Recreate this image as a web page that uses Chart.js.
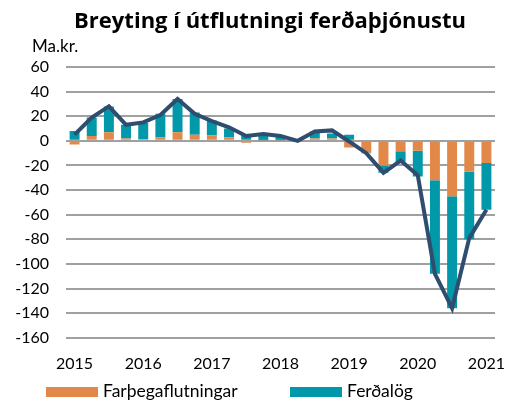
<!DOCTYPE html>
<html>
<head>
<meta charset="utf-8">
<script src="https://cdn.jsdelivr.net/npm/chart.js@4"></script>
<style>
    body { margin: 0; background: #fff; font-family: Lato, sans-serif; }
    #wrap { position: relative; width: 520px; height: 405px; }
    #c { position: absolute; left: 0; top: 0; }
    .title { position: absolute; left: 10px; width: 520px; top: 4px; text-align: center; font-family: 'Open Sans', sans-serif; font-size: 22px; font-weight: bold; color: #000; line-height: 30px; }
    .unit { position: absolute; left: 32px; top: 35px; font-size: 17px; color: #000; }
    .leg { position: absolute; top: 379px; font-size: 17.5px; color: #000; line-height: 24px; }
    .leg span { display: inline-block; width: 52px; height: 10px; margin-right: 5px; vertical-align: middle; position: relative; top: -1px; }
</style>
</head>
<body>
<div id="wrap">
    <canvas id="c" width="520" height="405"></canvas>
    <div class="title">Breyting í útflutningi ferðaþjónustu</div>
    <div class="unit">Ma.kr.</div>
    <div class="leg" style="left:46px"><span style="background:#e2894a"></span>Farþegaflutningar</div>
    <div class="leg" style="left:290px"><span style="background:#0199a9"></span>Ferðalög</div>
</div>
<script>
// ársfjórðungar 2015K1 - 2021K1
const quarters = ['2015K1','2015K2','2015K3','2015K4','2016K1','2016K2','2016K3','2016K4',
    '2017K1','2017K2','2017K3','2017K4','2018K1','2018K2','2018K3','2018K4',
    '2019K1','2019K2','2019K3','2019K4','2020K1','2020K2','2020K3','2020K4','2021K1'];
const farthega = [-3, 4, 7, 2, 1.5, 3, 7, 5, 4.5, 3, -1.5, 0.5, 0.5, 0.5, 2, 2,
    -5.5, -9.5, -20, -8.5, -8, -32, -45, -25, -18];
const ferdalog = [8, 15, 21, 11, 13, 19, 27, 18, 12, 7, 5, 5, 3.5, -0.5, 5.5, 4,
    5, -0.5, -6, -8.5, -21, -76, -91, -55, -38];
const alls = [5, 19, 28, 13, 15, 21, 34, 22, 16, 11, 4, 5.5, 4, 0, 7.6, 8.5,
    -0.5, -10, -26, -16, -28, -108, -136, -79, -56];
const yTicks = { min: -160, max: 60, step: 20 };

new Chart(document.getElementById('c').getContext('2d'), {
    type: 'bar',
    data: {
        labels: quarters,
        datasets: [
            { type: 'line', label: 'Alls', data: alls, borderColor: '#2f4d6e', borderWidth: 4,
              pointRadius: 0, tension: 0, stack: 'alls', order: 0 },
            { label: 'Farþegaflutningar', data: farthega, backgroundColor: '#e2894a', stack: 's', order: 1 },
            { label: 'Ferðalög', data: ferdalog, backgroundColor: '#0199a9', stack: 's', order: 2 }
        ]
    },
    options: {
        responsive: false,
        animation: false,
        layout: { padding: { left: 10, right: 25, top: 67, bottom: 24 } },
        plugins: { legend: { display: false }, tooltip: { enabled: false } },
        datasets: { bar: { categoryPercentage: 1, barPercentage: 0.58 } },
        scales: {
            x: {
                stacked: true,
                grid: { display: false },
                border: { display: false },
                ticks: {
                    autoSkip: false, maxRotation: 0, padding: 8, color: '#000',
                    font: { family: 'Lato', size: 16 },
                    callback: (v, i) => i % 4 === 0 ? quarters[i].slice(0, 4) : ''
                }
            },
            y: {
                stacked: true,
                min: yTicks.min, max: yTicks.max,
                afterFit: (s) => { s.width = 56; },
                grid: { color: '#a0a0a0', lineWidth: 2, drawTicks: false },
                border: { display: false },
                ticks: { stepSize: yTicks.step, padding: 17, color: '#000', font: { family: 'Lato', size: 16 } }
            }
        }
    }
});
</script>
</body>
</html>
